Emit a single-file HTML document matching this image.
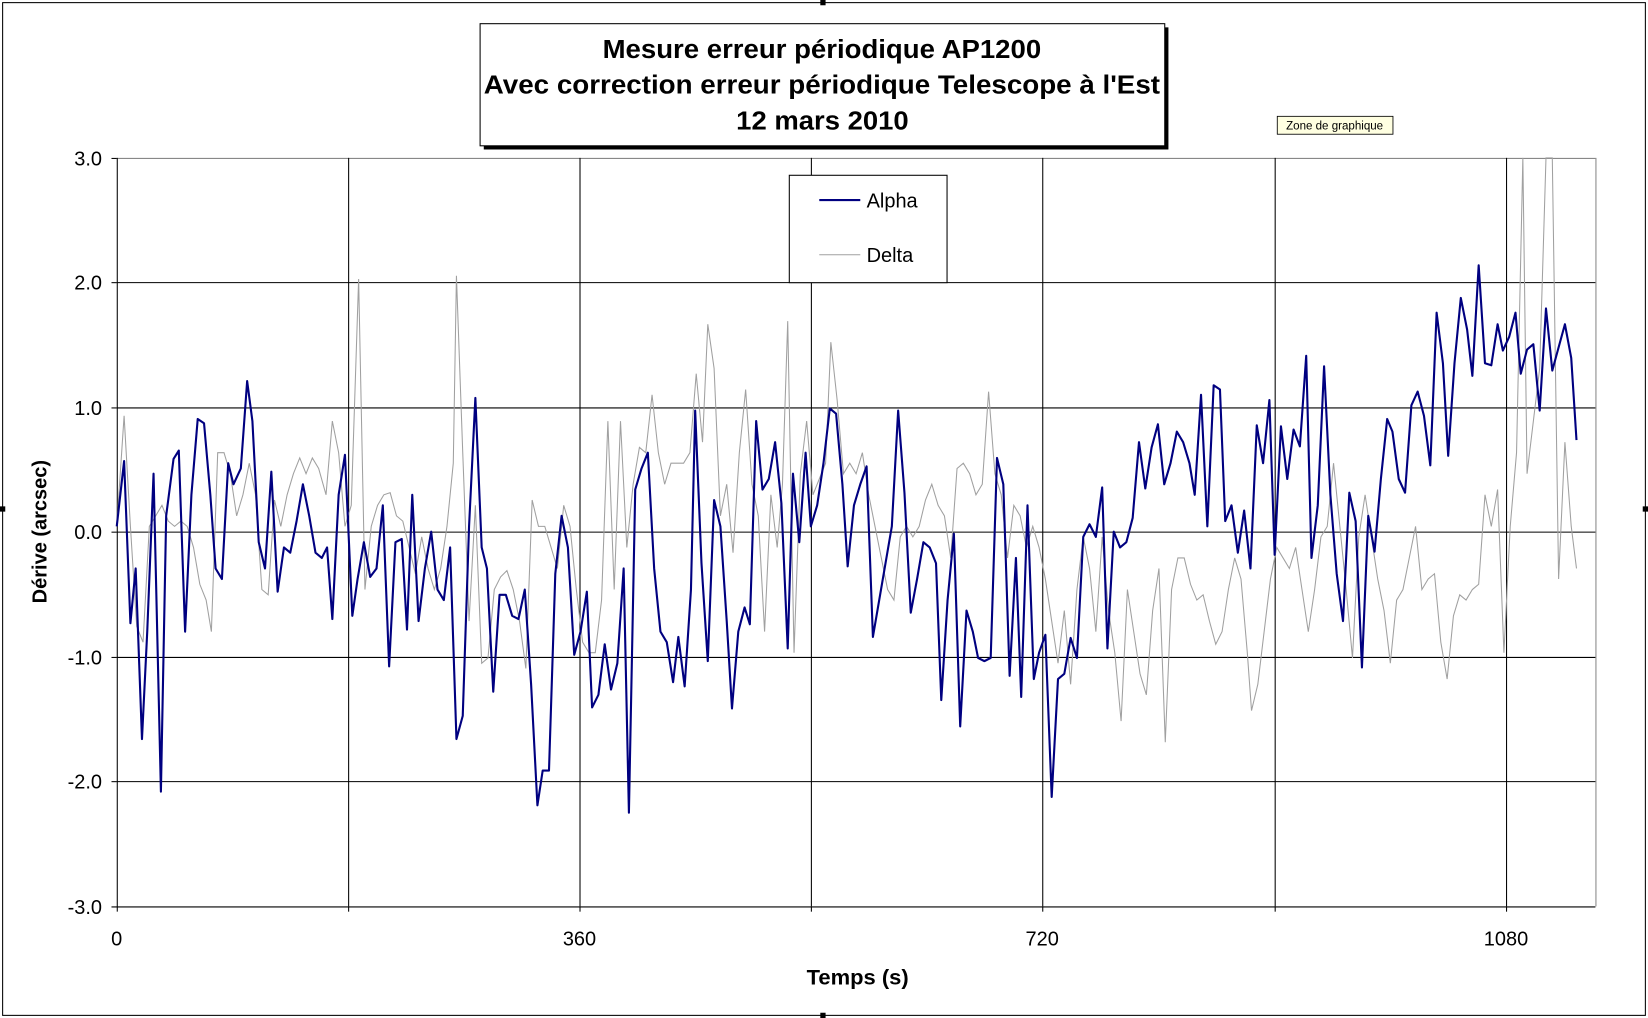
<!DOCTYPE html>
<html><head><meta charset="utf-8"><style>html,body{margin:0;padding:0;background:#fff}svg{display:block}</style></head>
<body>
<svg width="1648" height="1018" viewBox="0 0 1567 967" preserveAspectRatio="none" xmlns="http://www.w3.org/2000/svg" font-family="Liberation Sans, sans-serif">
<rect x="0" y="0" width="1567" height="967" fill="#fff"/>
<rect x="2.5" y="2.5" width="1562" height="962" fill="none" stroke="#000" stroke-width="1"/>
<g fill="#000"><rect x="780" y="0" width="5" height="5"/><rect x="780" y="962" width="5" height="5"/><rect x="0" y="481" width="5" height="5"/><rect x="1562" y="481" width="5" height="5"/></g>
<g stroke="#000" stroke-width="1">
<line x1="111" y1="150.5" x2="1517" y2="150.5" stroke="#888"/>
<line x1="111" y1="268.5" x2="1517" y2="268.5"/>
<line x1="111" y1="387.5" x2="1517" y2="387.5"/>
<line x1="111" y1="505.5" x2="1517" y2="505.5"/>
<line x1="111" y1="624.5" x2="1517" y2="624.5"/>
<line x1="111" y1="742.5" x2="1517" y2="742.5"/>
<line x1="331.5" y1="150" x2="331.5" y2="861"/>
<line x1="551.5" y1="150" x2="551.5" y2="861"/>
<line x1="771.5" y1="150" x2="771.5" y2="861"/>
<line x1="991.5" y1="150" x2="991.5" y2="861"/>
<line x1="1212.5" y1="150" x2="1212.5" y2="861"/>
<line x1="1432.5" y1="150" x2="1432.5" y2="861"/>
<line x1="1517.5" y1="150" x2="1517.5" y2="861" stroke="#888"/>
<line x1="111.5" y1="150" x2="111.5" y2="866"/>
<line x1="106" y1="861.5" x2="1517" y2="861.5"/>
<g>
<line x1="106" y1="150.5" x2="111" y2="150.5"/><line x1="106" y1="268.5" x2="111" y2="268.5"/><line x1="106" y1="387.5" x2="111" y2="387.5"/><line x1="106" y1="505.5" x2="111" y2="505.5"/><line x1="106" y1="624.5" x2="111" y2="624.5"/><line x1="106" y1="742.5" x2="111" y2="742.5"/>
<line x1="331.5" y1="861" x2="331.5" y2="866"/><line x1="551.5" y1="861" x2="551.5" y2="866"/><line x1="771.5" y1="861" x2="771.5" y2="866"/><line x1="991.5" y1="861" x2="991.5" y2="866"/><line x1="1212.5" y1="861" x2="1212.5" y2="866"/><line x1="1432.5" y1="861" x2="1432.5" y2="866"/>
</g></g>
<g font-size="19" text-anchor="end" fill="#000">
<text x="97" y="157">3.0</text><text x="97" y="275">2.0</text><text x="97" y="394">1.0</text><text x="97" y="512">0.0</text><text x="97" y="631">-1.0</text><text x="97" y="749">-2.0</text><text x="97" y="868">-3.0</text>
</g>
<g font-size="19" text-anchor="middle"><text x="111" y="898">0</text><text x="551" y="898">360</text><text x="991" y="898">720</text><text x="1432" y="898">1080</text></g>
<text x="767" y="935" font-size="20" font-weight="bold" textLength="97" lengthAdjust="spacingAndGlyphs">Temps (s)</text>
<text transform="translate(44,505) rotate(-90)" font-size="19" font-weight="bold" text-anchor="middle">Dérive (arcsec)</text>
<polyline fill="none" stroke="#a0a0a0" stroke-width="1" points="111,500 118,395 124,500 130,595 136,610 142,500 148,490 154,480 160,495 166,500 172,495 178,500 184,520 190,555 196,570 201,600 207,430 213,430 219,450 225,490 231,470 237,440 243,470 249,560 255,565 261,475 267,500 273,470 279,450 285,435 291,450 297,435 303,445 310,470 316,400 322,430 328,500 334,480 341,265 347,560 353,500 359,480 365,470 371,468 377,490 383,495 389,520 395,545 401,510 407,540 413,560 419,540 425,500 431,440 434,262 440,430 446,590 452,480 458,630 464,625 470,560 476,548 482,542 488,560 494,590 500,635 506,475 512,500 518,500 524,520 530,540 536,480 542,500 548,560 554,610 560,620 566,620 572,570 578,400 584,560 590,400 596,520 602,460 608,425 614,430 620,375 626,430 632,460 638,440 644,440 650,440 656,430 662,355 668,420 673,308 679,350 685,490 691,460 697,525 703,430 709,370 715,460 721,490 727,600 733,470 739,520 744,460 749,305 755,620 761,450 767,400 773,470 779,455 785,440 790,325 796,380 802,450 808,440 814,450 820,430 826,470 832,500 838,530 844,560 850,570 856,510 862,500 868,510 874,500 880,475 886,460 892,480 898,490 904,530 910,445 916,440 922,450 928,470 934,460 940,372 946,450 952,470 958,530 964,480 970,490 976,520 982,500 988,520 994,550 1000,590 1006,630 1012,580 1018,650 1024,560 1030,510 1036,540 1042,600 1048,510 1054,580 1060,620 1066,685 1072,560 1078,600 1084,640 1090,660 1096,580 1102,540 1108,705 1114,560 1120,530 1126,530 1132,555 1138,570 1144,565 1150,590 1156,612 1162,600 1168,560 1174,530 1180,550 1186,620 1190,675 1196,650 1202,600 1208,550 1214,520 1220,530 1226,540 1232,520 1238,560 1244,600 1250,560 1256,510 1262,500 1268,440 1274,500 1280,560 1286,625 1292,510 1298,470 1304,510 1310,550 1316,580 1322,630 1328,570 1334,560 1340,530 1346,500 1352,560 1358,550 1364,545 1370,610 1376,645 1382,585 1388,565 1394,570 1400,560 1406,555 1412,470 1418,500 1424,465 1430,620 1436,500 1442,430 1448,150 1452,450 1458,400 1464,350 1470,150 1476,150 1482,550 1488,420 1494,500 1499,540"/>
<polyline fill="none" stroke="#000080" stroke-width="2" stroke-linejoin="round" points="111,500 118,438 124,592 129,540 135,702 140,600 146,450 153,752 158,490 165,436 170,428 176,600 182,470 188,398 194,402 200,470 205,540 211,550 217,440 222,460 229,445 235,362 240,400 246,515 252,540 258,448 264,562 270,520 276,525 282,495 288,460 294,490 300,525 306,530 311,520 316,588 322,470 328,432 335,585 340,550 346,515 352,548 358,540 364,480 370,633 376,515 382,512 387,598 392,470 398,590 404,540 410,505 416,560 422,570 428,520 434,702 440,680 446,500 452,378 458,520 463,540 469,657 475,565 481,565 487,585 493,588 499,560 505,650 511,765 516,732 522,732 528,545 534,490 540,520 546,622 552,600 558,562 563,672 569,660 575,612 581,655 587,630 593,540 598,772 604,465 610,445 616,430 622,540 628,600 634,610 640,648 645,605 651,652 657,560 661,390 667,535 673,628 679,475 685,500 691,590 696,673 702,600 708,577 713,593 719,400 725,465 731,455 737,420 743,478 749,616 754,450 760,515 766,430 771,500 777,480 783,440 789,388 795,393 801,460 806,538 812,480 818,460 824,443 830,605 836,570 842,535 848,500 854,390 860,468 866,582 872,550 878,515 884,520 890,535 895,665 901,570 907,507 913,690 919,580 925,600 930,625 936,628 942,625 948,435 954,460 960,642 966,530 971,662 977,480 983,645 988,620 994,603 1000,757 1006,645 1012,640 1018,606 1024,625 1030,510 1036,498 1042,510 1048,463 1053,616 1059,505 1065,520 1071,515 1077,492 1083,420 1089,464 1095,425 1101,403 1107,460 1113,440 1119,410 1125,420 1131,440 1136,470 1142,375 1148,500 1154,366 1160,370 1165,495 1171,480 1177,525 1183,485 1189,540 1195,404 1201,440 1207,380 1212,527 1218,405 1224,455 1230,408 1236,424 1242,338 1247,530 1253,480 1259,348 1265,470 1271,545 1277,590 1283,468 1289,495 1295,634 1301,490 1307,524 1313,455 1319,398 1324,410 1330,455 1336,468 1342,385 1348,372 1354,395 1360,442 1366,297 1372,345 1377,433 1383,345 1389,283 1395,313 1400,357 1406,252 1412,345 1418,347 1424,308 1429,333 1435,320 1441,297 1446,355 1452,332 1458,327 1464,390 1470,293 1476,352 1482,330 1488,308 1494,340 1499,418"/>
<rect x="750.5" y="166.5" width="150" height="102" fill="#fff" stroke="#000"/>
<line x1="779" y1="190" x2="818" y2="190" stroke="#000080" stroke-width="2"/>
<line x1="779" y1="242" x2="818" y2="242" stroke="#a0a0a0" stroke-width="1"/>
<text x="824" y="197" font-size="19">Alpha</text>
<text x="824" y="249" font-size="19">Delta</text>
<rect x="460" y="26" width="651" height="116" fill="#000"/>
<rect x="456.5" y="22.5" width="651" height="116" fill="#fff" stroke="#000"/>
<g font-size="25" font-weight="bold">
<text x="573" y="55" textLength="417" lengthAdjust="spacingAndGlyphs">Mesure erreur périodique AP1200</text>
<text x="460" y="89" textLength="643" lengthAdjust="spacingAndGlyphs">Avec correction erreur périodique Telescope à l'Est</text>
<text x="700" y="123" textLength="164" lengthAdjust="spacingAndGlyphs">12 mars 2010</text>
</g>
<rect x="1214.5" y="110.5" width="110" height="17" fill="#ffffe1" stroke="#000" stroke-width="0.8"/>
<text x="1269" y="123" font-size="11" text-anchor="middle">Zone de graphique</text>
</svg>
</body></html>
